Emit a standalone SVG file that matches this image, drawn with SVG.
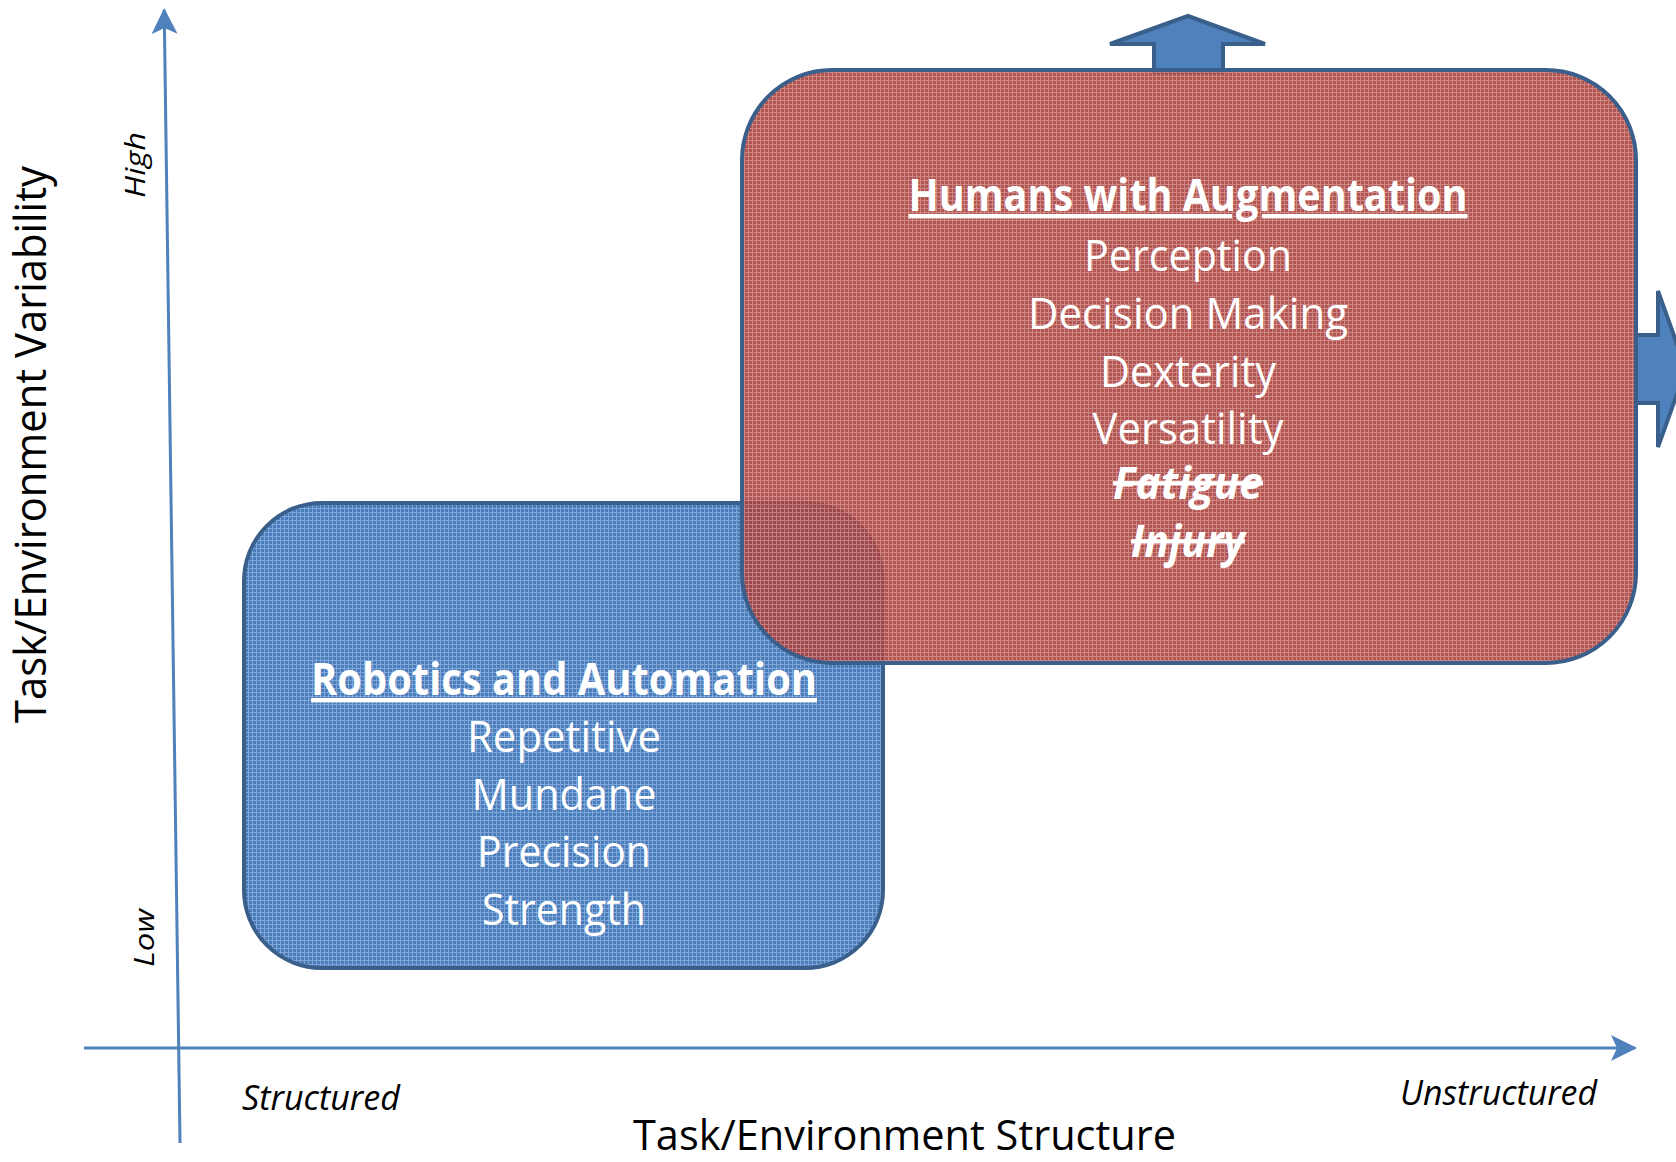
<svg xmlns="http://www.w3.org/2000/svg" width="1676" height="1162" viewBox="0 0 1676 1162">
<style>
.lbl{font-family:"Open Sans","Liberation Sans",sans-serif;fill:#000}
.it{font-style:italic}
.bx{font-family:"Open Sans","Liberation Sans",sans-serif;fill:#fff;font-size:44px;text-anchor:middle}
.ttl{font-weight:bold;text-decoration:underline}
.strk{font-weight:bold;font-style:italic;text-decoration:line-through}
.axis{stroke:#4F81BD;stroke-width:3;fill:none}
.blk{fill:#4F81BD;stroke:#3A5F8B;stroke-width:4;stroke-linejoin:miter}
</style>
<defs>
<pattern id="pBlue" width="4" height="4" patternUnits="userSpaceOnUse">
<rect width="4" height="4" fill="#4A7DBA"/>
<rect width="4" height="1" fill="#7FA6D8"/>
<rect width="1" height="4" fill="#7FA6D8"/>
</pattern>
<pattern id="pRed" width="4" height="4" patternUnits="userSpaceOnUse">
<rect width="4" height="4" fill="#A8423F"/>
<rect width="4" height="1" fill="#CA7A77"/>
<rect width="1" height="4" fill="#CA7A77"/>
</pattern>
<marker id="ah" viewBox="0 0 26 26" refX="24" refY="13" markerWidth="26" markerHeight="26" markerUnits="userSpaceOnUse" orient="auto">
<path d="M0,0 L26,13 L0,26 L6,13 Z" fill="#4F81BD"/>
</marker>
</defs>

<g id="connectors">
<line class="axis" x1="180" y1="1143" x2="164.2" y2="10" marker-end="url(#ah)"/>
<line class="axis" x1="84" y1="1048" x2="1635" y2="1048" marker-end="url(#ah)"/>
</g>

<g id="axis-labels">
<text class="lbl" font-size="43" transform="translate(46,444.5) rotate(-90)" text-anchor="middle" textLength="557" lengthAdjust="spacingAndGlyphs">Task/Environment Variability</text>
<text class="lbl" font-size="42" x="904.5" y="1150" text-anchor="middle" textLength="543" lengthAdjust="spacingAndGlyphs">Task/Environment Structure</text>
<text class="lbl it" font-size="28" transform="translate(145,165) rotate(-90)" text-anchor="middle" textLength="66" lengthAdjust="spacingAndGlyphs">High</text>
<text class="lbl it" font-size="28" transform="translate(154,938) rotate(-90)" text-anchor="middle" textLength="58" lengthAdjust="spacingAndGlyphs">Low</text>
<text class="lbl it" font-size="34" x="321" y="1110" text-anchor="middle" textLength="158" lengthAdjust="spacingAndGlyphs">Structured</text>
<text class="lbl it" font-size="34" x="1498.5" y="1105" text-anchor="middle" textLength="197" lengthAdjust="spacingAndGlyphs">Unstructured</text>
</g>

<g id="robotics">
<rect x="244" y="503" width="639" height="465" rx="78" ry="78" fill="url(#pBlue)" stroke="#3A5F8B" stroke-width="4"/>
<text class="bx ttl" x="564" y="695" textLength="506" lengthAdjust="spacingAndGlyphs">Robotics and Automation</text>
<text class="bx" x="564" y="752" textLength="194" lengthAdjust="spacingAndGlyphs">Repetitive</text>
<text class="bx" x="564" y="810" textLength="185" lengthAdjust="spacingAndGlyphs">Mundane</text>
<text class="bx" x="564" y="867" textLength="174" lengthAdjust="spacingAndGlyphs">Precision</text>
<text class="bx" x="564" y="925" textLength="164" lengthAdjust="spacingAndGlyphs">Strength</text>
</g>

<g id="up-arrow">
<polygon class="blk" points="1154,72 1154,44 1110,44 1188,16 1265,44 1223,44 1223,72"/>
</g>
<g id="right-arrow">
<polygon class="blk" points="1636,335 1658,335 1658,291 1686,369 1658,447 1658,403 1636,403"/>
</g>

<g id="humans">
<rect x="742" y="70" width="894" height="593" rx="90" ry="90" fill="url(#pRed)" fill-opacity="0.9" stroke="#3A5F8B" stroke-width="4"/>
<text class="bx ttl" x="1188" y="211" textLength="559" lengthAdjust="spacingAndGlyphs">Humans with Augmentation</text>
<text class="bx" x="1188" y="271" textLength="208" lengthAdjust="spacingAndGlyphs">Perception</text>
<text class="bx" x="1188" y="329" textLength="320" lengthAdjust="spacingAndGlyphs">Decision Making</text>
<text class="bx" x="1188" y="387" textLength="176" lengthAdjust="spacingAndGlyphs">Dexterity</text>
<text class="bx" x="1188" y="444" textLength="191" lengthAdjust="spacingAndGlyphs">Versatility</text>
<text class="bx strk" x="1188" y="499" textLength="150" lengthAdjust="spacingAndGlyphs">Fatigue</text>
<text class="bx strk" x="1188" y="557" textLength="114" lengthAdjust="spacingAndGlyphs">Injury</text>
</g>
</svg>
